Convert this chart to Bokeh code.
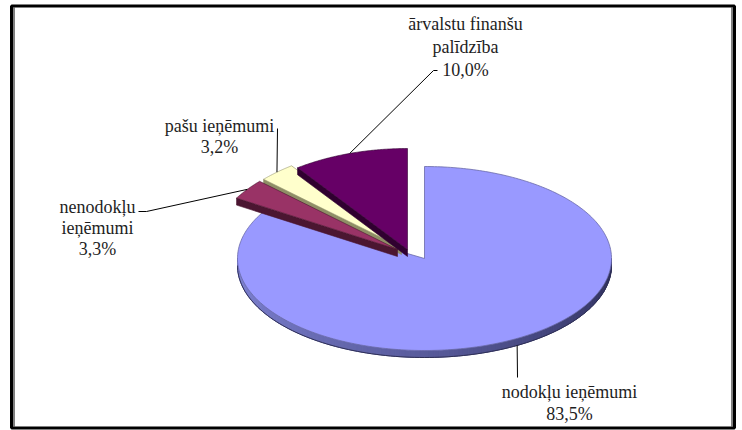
import numpy as np
from bokeh.plotting import figure
from bokeh.models import Range1d, Label
from bokeh.embed import file_html
from bokeh.resources import INLINE

# ---------------- data ----------------
categories = ["nodokļu ieņēmumi", "nenodokļu ieņēmumi", "pašu ieņēmumi", "ārvalstu finanšu palīdzība"]
shares = [83.5, 3.3, 3.2, 10.0]
share_labels = ["83,5%", "3,3%", "3,2%", "10,0%"]
label_lines = [["nodokļu ieņēmumi"], ["nenodokļu", "ieņēmumi"], ["pašu ieņēmumi"], ["ārvalstu finanšu", "palīdzība"]]

# ---------------- style / layout ----------------
top_colors = ["#9999FF", "#993366", "#FFFFCC", "#660066"]
side_colors = ["#3a3b6c", "#4b1631", "#8f8f66", "#300030"]
CX, CY = 424.0, 258.0
RX = 187.0
RY = [92.0, 101.0, 101.0, 101.0]
EXPLODE = [(0, 0), (-27, -9), (-23, -11), (-17, -9)]
DEPTH = 7.0
label_pos = [(569, 391), (97, 206), (219, 125), (465, 23)]
label_step = [22, 21, 21, 23]
leader_ends = [[(517, 377)], [(146, 211), (138, 211)], [(277, 128)], [(433, 70), (437, 70)]]
FONT = "Liberation Serif"

W, H = 742, 430
p = figure(width=W, height=H, output_backend="svg", toolbar_location=None,
           x_range=Range1d(0, W), y_range=Range1d(H, 0),
           min_border=0, outline_line_color=None, background_fill_color="white")
p.axis.visible = False
p.grid.visible = False

cum = np.concatenate([[0.0], np.cumsum(shares)])
th_hi = 90.0 - 3.6 * cum[:-1]   # counter-clockwise edge
th_lo = 90.0 - 3.6 * cum[1:]    # clockwise edge


def center(i):
    return CX + EXPLODE[i][0], CY + EXPLODE[i][1]


def pt(th, i, depth=0.0):
    th = np.radians(th)
    cx, cy = center(i)
    return cx + RX * np.cos(th), cy - RY[i] * np.sin(th) + depth


# ---- main slice (index 0): front wall with gradient ----
wall_th = np.linspace(-180.0, 0.0, 121)
c0 = np.array([128, 132, 214])
c1 = np.array([44, 45, 88])
wxs, wys, wcols = [], [], []
for k in range(len(wall_th) - 1):
    a, b = wall_th[k], wall_th[k + 1]
    xa, ya = pt(a, 0)
    xb, yb = pt(b, 0)
    t = (0.5 * (a + b) + 180.0) / 180.0
    col = c0 + (c1 - c0) * t ** 1.1
    hexc = "#%02x%02x%02x" % tuple(int(v) for v in col)
    wxs.append([xa, xb, xb, xa])
    wys.append([ya, yb, yb + DEPTH, ya + DEPTH])
    wcols.append(hexc)
p.patches(wxs, wys, fill_color=wcols, line_color=wcols, line_width=1)
bx, by = pt(wall_th, 0, DEPTH)
p.line(bx, by, line_color="#2e2f55", line_width=1)

# ---- main slice top ----
arc = np.linspace(th_hi[0], th_lo[0], 300)
ax, ay = pt(arc, 0)
p.patch(np.concatenate([[CX], ax]), np.concatenate([[CY], ay]),
        fill_color=top_colors[0], line_color="#6a6aa8", line_width=0.8)

# ---- exploded slices ----
for i in [2, 1, 3]:
    a, b = th_lo[i], th_hi[i]
    cx, cy = center(i)
    rx_b, ry_b = pt(b, i)
    p.patch([cx, rx_b, rx_b, cx], [cy, ry_b, ry_b + DEPTH, cy + DEPTH],
            fill_color=side_colors[i], line_color=side_colors[i], line_width=0.6)
    arc = np.linspace(a, b, 80)
    ax, ay = pt(arc, i)
    p.patch(np.concatenate([[cx], ax]), np.concatenate([[cy], ay]),
            fill_color=top_colors[i], line_color=side_colors[i], line_width=0.6)

# ---- leader lines ----
for i in range(4):
    mid = 0.5 * (th_hi[i] + th_lo[i])
    sx, sy = pt(mid, i, DEPTH if i == 0 else 0.0)
    xs = [float(sx)] + [e[0] for e in leader_ends[i]]
    ys = [float(sy)] + [e[1] for e in leader_ends[i]]
    p.line(xs, ys, line_color="black", line_width=1)

# ---- labels ----
for i in range(4):
    lines = label_lines[i] + [share_labels[i]]
    x0, y0 = label_pos[i]
    for j, s in enumerate(lines):
        p.add_layout(Label(x=x0, y=y0 + j * label_step[i], text=s,
                           text_align="center", text_baseline="middle",
                           text_font=FONT, text_font_size="18px",
                           text_color="#1e1e1e"))

# ---- frame ----
p.quad(left=[11], right=[734], top=[5.5], bottom=[427.5], fill_color=None,
       line_color="black", line_width=3)
p.segment(x0=[13.5, 731.5], y0=[7, 7], x1=[13.5, 731.5], y1=[426, 426],
          line_color="black", line_width=1)

open("out.html", "w").write(file_html(p, INLINE))
